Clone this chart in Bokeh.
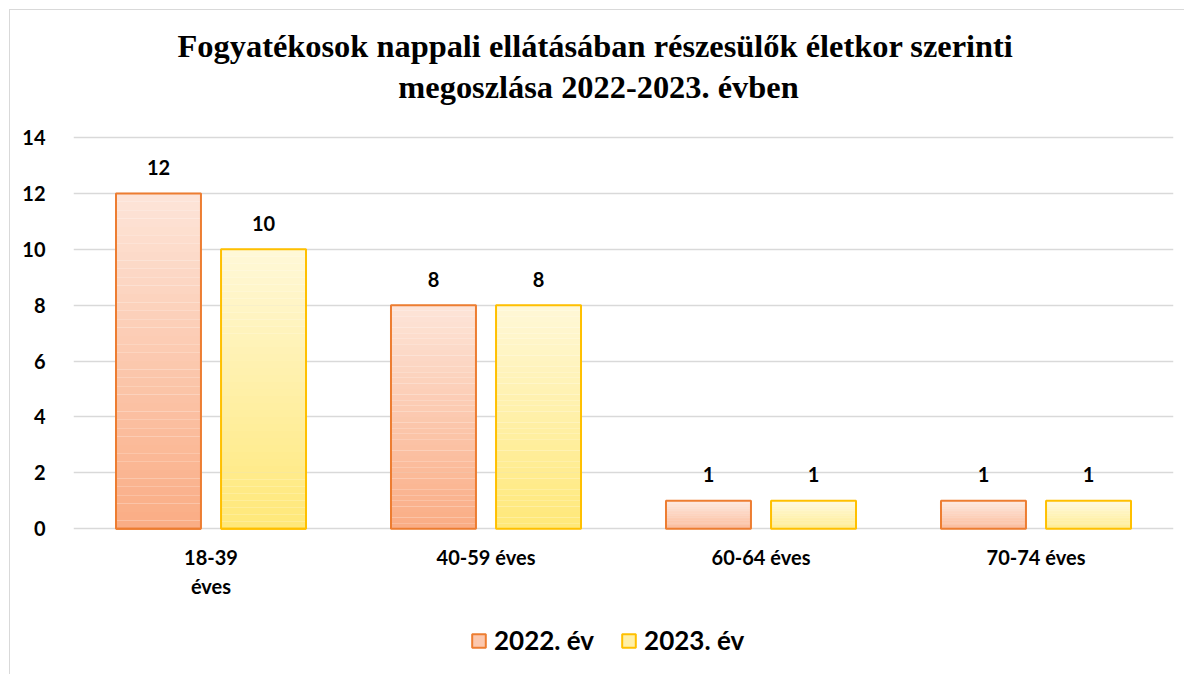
import numpy as np
from bokeh.plotting import figure
from bokeh.models import ColumnDataSource, FactorRange, Range1d, FixedTicker, Legend, LegendItem, Label
from bokeh.transform import dodge
from bokeh.embed import file_html
from bokeh.resources import INLINE
from bokeh.core.properties import value

# ---- data ----
categories = ["18-39\néves", "40-59 éves", "60-64 éves", "70-74 éves"]
series_names = ["2022. év", "2023. év"]
values_2022 = [12, 8, 1, 1]
values_2023 = [10, 8, 1, 1]
y_ticks = [0, 2, 4, 6, 8, 10, 12, 14]
title_line1 = "Fogyatékosok nappali ellátásában részesülők életkor szerinti"
title_line2 = "megoszlása 2022-2023. évben"

# ---- styles ----
SANS = "Lato"
FS = "20px"
orange_top, orange_bot, orange_line = (253, 229, 217), (250, 172, 132), "#ED7D31"
yellow_top, yellow_bot, yellow_line = (255, 248, 216), (255, 232, 120), "#FFC000"
N_SLICES = 40
BAR_W = 0.309
OFFSET = 0.191

# frame spans the whole chart height: 0..14 occupies 391 px, 127 px above 14, ~140 px below 0
W, H = 1175, 665
FRAME_H = 658
Y_BOTTOM = -5.0
Y_TOP = 14 + 127 / (531 / 19.0)
p = figure(x_range=FactorRange(*categories), y_range=Range1d(Y_BOTTOM, Y_TOP),
           width=W, height=H, output_backend="svg", toolbar_location=None,
           min_border_left=63, min_border_right=W - 63 - 1100, min_border_top=0,
           min_border_bottom=H - FRAME_H, title=None, outline_line_color=None,
           background_fill_color="white", border_fill_color="white")
p.x_range.range_padding = 0
p.x_range.factor_padding = 0
p.x_range.group_padding = 0
p.styles = {"border-left": "1px solid #D9D9D9", "border-top": "1px solid #D9D9D9",
            "margin-left": "9px", "margin-top": "9px"}

def mix(c1, c2, t):
    return "#%02x%02x%02x" % tuple(int(round(a + (b - a) * t)) for a, b in zip(c1, c2))

def gradient_source(vals, top_c, bot_c):
    cat, bottoms, tops, colors = [], [], [], []
    for c, v in zip(categories, vals):
        for i in range(N_SLICES):
            cat.append(c)
            bottoms.append(v * i / N_SLICES)
            tops.append(v * (i + 1) / N_SLICES)
            colors.append(mix(bot_c, top_c, (i + 0.5) / N_SLICES))
    return ColumnDataSource(dict(cat=cat, bottom=bottoms, top=tops, color=colors))

series = [
    (values_2022, -OFFSET, orange_top, orange_bot, orange_line),
    (values_2023, OFFSET, yellow_top, yellow_bot, yellow_line),
]

legend_items = []
for (vals, off, tc, bc, lc), name in zip(series, series_names):
    src = gradient_source(vals, tc, bc)
    p.vbar(x=dodge("cat", off, range=p.x_range), bottom="bottom", top="top", width=BAR_W,
           source=src, fill_color="color", line_color=None)
    osrc = ColumnDataSource(dict(cat=categories, val=vals, lab=[str(v) for v in vals]))
    p.vbar(x=dodge("cat", off, range=p.x_range), top="val", bottom=0, width=BAR_W,
           source=osrc, fill_color=None, line_color=lc, line_width=2)
    p.text(x=dodge("cat", off, range=p.x_range), y="val", text="lab", source=osrc,
           text_align="center", text_baseline="middle", y_offset=-26,
           text_font=value(SANS), text_font_style="bold", text_font_size=FS,
           text_color="black")
    # legend swatch renderer: a zero-height bar lying on the zero line of the first bar
    ssrc = ColumnDataSource(dict(cat=categories[:1], val=[0]))
    lr = p.vbar(x=dodge("cat", off, range=p.x_range), top="val", bottom="val", width=BAR_W,
                source=ssrc, fill_color=mix(bc, tc, 0.5), line_color=lc, line_width=2)
    legend_items.append(LegendItem(label=name, renderers=[lr]))

# ---- category labels (drawn under the zero line) ----
csrc = ColumnDataSource(dict(cat=categories, y=[0] * len(categories)))
p.text(x="cat", y="y", text="cat", source=csrc, text_align="center", text_baseline="top",
       y_offset=16, text_font=value(SANS), text_font_style="bold", text_font_size=FS,
       text_color="black", text_line_height=1.22)

# ---- axes ----
p.xaxis.visible = False
p.yaxis.ticker = FixedTicker(ticks=y_ticks)
p.yaxis.axis_line_color = None
p.yaxis.major_tick_line_color = None
p.yaxis.minor_tick_line_color = None
p.yaxis.major_label_text_font = SANS
p.yaxis.major_label_text_font_style = "bold"
p.yaxis.major_label_text_font_size = FS
p.yaxis.major_label_text_color = "black"
p.yaxis.major_label_standoff = 22

p.xgrid.grid_line_color = None
p.ygrid.ticker = FixedTicker(ticks=y_ticks)
p.ygrid.grid_line_color = "#D9D9D9"
p.ygrid.grid_line_width = 1.5

# ---- title (two centred lines, screen px from the frame's bottom-left) ----
tstyle = dict(x_units="screen", y_units="screen", text_align="center", text_baseline="middle",
              text_font="Liberation Serif", text_font_style="bold", text_font_size="32.4px",
              text_color="black")
p.add_layout(Label(x=522, y=FRAME_H - 35, text=title_line1, **tstyle), "center")
p.add_layout(Label(x=525, y=FRAME_H - 76, text=title_line2, **tstyle), "center")

# ---- legend (inside the frame, below the zero line) ----
legend = Legend(items=legend_items, orientation="horizontal", location=(397, 12),
                label_text_font=SANS, label_text_font_style="bold", label_text_font_size="26px",
                label_text_color="black", glyph_width=17, glyph_height=17, label_standoff=7,
                spacing=26, border_line_color=None, background_fill_alpha=0,
                margin=0, padding=5)
p.add_layout(legend, "center")

open("out.html", "w").write(file_html(p, INLINE))
